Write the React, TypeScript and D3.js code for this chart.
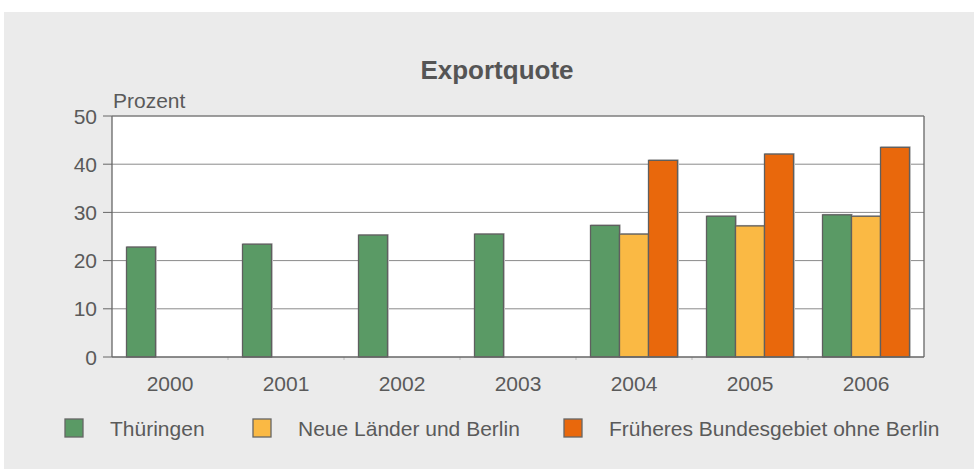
import React from 'react';
import * as d3 from 'd3';

const years = ['2000', '2001', '2002', '2003', '2004', '2005', '2006'];
const seriesNames = ['Thüringen', 'Neue Länder und Berlin', 'Früheres Bundesgebiet ohne Berlin'];
const thueringen: (number | null)[] = [22.8, 23.4, 25.3, 25.5, 27.3, 29.2, 29.5];
const neueLaender: (number | null)[] = [null, null, null, null, 25.5, 27.2, 29.2];
const frueheres: (number | null)[] = [null, null, null, null, 40.8, 42.1, 43.5];
const seriesColors = ['#5a9a65', '#fab944', '#e9680c'];
const yTicks = [0, 10, 20, 30, 40, 50];
const title = 'Exportquote';
const yUnit = 'Prozent';

const W = 974;
const H = 469;
const FONT = 'Arial, "Liberation Sans", sans-serif';

export default function App() {
  const left = 112, right = 924, top = 116, bottom = 357;
  const x0 = d3.scaleBand<string>().domain(years).range([left, right]);
  const x1 = d3.scaleBand<string>().domain(seriesNames).range([0, x0.bandwidth()]).paddingOuter(0.5).paddingInner(0);
  const y = d3.scaleLinear().domain([0, 50]).range([bottom, top]);
  const allSeries = [thueringen, neueLaender, frueheres];

  const legendX = [65, 253, 564];
  const textCol = '#5a5a5a';
  const fs = 21;

  return (
    <svg width={W} height={H} style={{ position: 'absolute', left: 0, top: 0 }} fontFamily={FONT}>
      <rect x={4} y={12} width={W - 4} height={H - 12} fill="#ebebeb" />
      <rect x={left} y={top} width={right - left} height={bottom - top} fill="#ffffff" />
      {yTicks.map((t) => (
        <g key={t}>
          {t > 0 && <line x1={left} x2={right} y1={y(t)} y2={y(t)} stroke="#8a8a8a" strokeWidth={1} />}
          <line x1={103} x2={left} y1={y(t)} y2={y(t)} stroke="#666" strokeWidth={1} />
          <text x={97} y={y(t)} dy="0.36em" textAnchor="end" fontSize={fs} fill={textCol}>{t}</text>
        </g>
      ))}
      {years.map((yr, i) => (
        <g key={yr}>
          {allSeries.map((s, si) => {
            const v = s[i];
            if (v == null) return null;
            const bx = (x0(yr) as number) + (x1(seriesNames[si]) as number);
            return (
              <g key={si}>
                <rect x={bx + 1} y={y(v) - 0.5} width={x1.bandwidth()} height={bottom - y(v) + 0.5} fill="none" stroke="#cfcfcf" strokeWidth={1} />
                <rect x={bx} y={y(v)} width={x1.bandwidth()} height={bottom - y(v)} fill={seriesColors[si]} stroke="#5f5f5f" strokeWidth={1.3} />
              </g>
            );
          })}
          <text x={(x0(yr) as number) + x0.bandwidth() / 2} y={390.5} textAnchor="middle" fontSize={fs} fill={textCol}>{yr}</text>
          {i > 0 && <line x1={x0(yr) as number} x2={x0(yr) as number} y1={bottom} y2={bottom + 3} stroke="#bbb" strokeWidth={1} />}
        </g>
      ))}
      <line x1={left} x2={left} y1={top} y2={bottom} stroke="#666" strokeWidth={1.3} />
      <line x1={right} x2={right} y1={top} y2={bottom} stroke="#666" strokeWidth={1.3} />
      <line x1={left} x2={right} y1={bottom} y2={bottom} stroke="#666" strokeWidth={1.3} />
      <line x1={left} x2={right} y1={top} y2={top} stroke="#777" strokeWidth={1} />
      <text x={113} y={108} fontSize={fs} fill={textCol}>{yUnit}</text>
      <text x={497} y={79} textAnchor="middle" fontSize={26} fontWeight="bold" fill="#555">{title}</text>
      {seriesNames.map((n, i) => (
        <g key={n}>
          <rect x={legendX[i]} y={419} width={18} height={18} fill={seriesColors[i]} stroke="#666" strokeWidth={1.3} />
          <text x={legendX[i] + 45} y={435.5} fontSize={fs} fill={textCol}>{n}</text>
        </g>
      ))}
    </svg>
  );
}
